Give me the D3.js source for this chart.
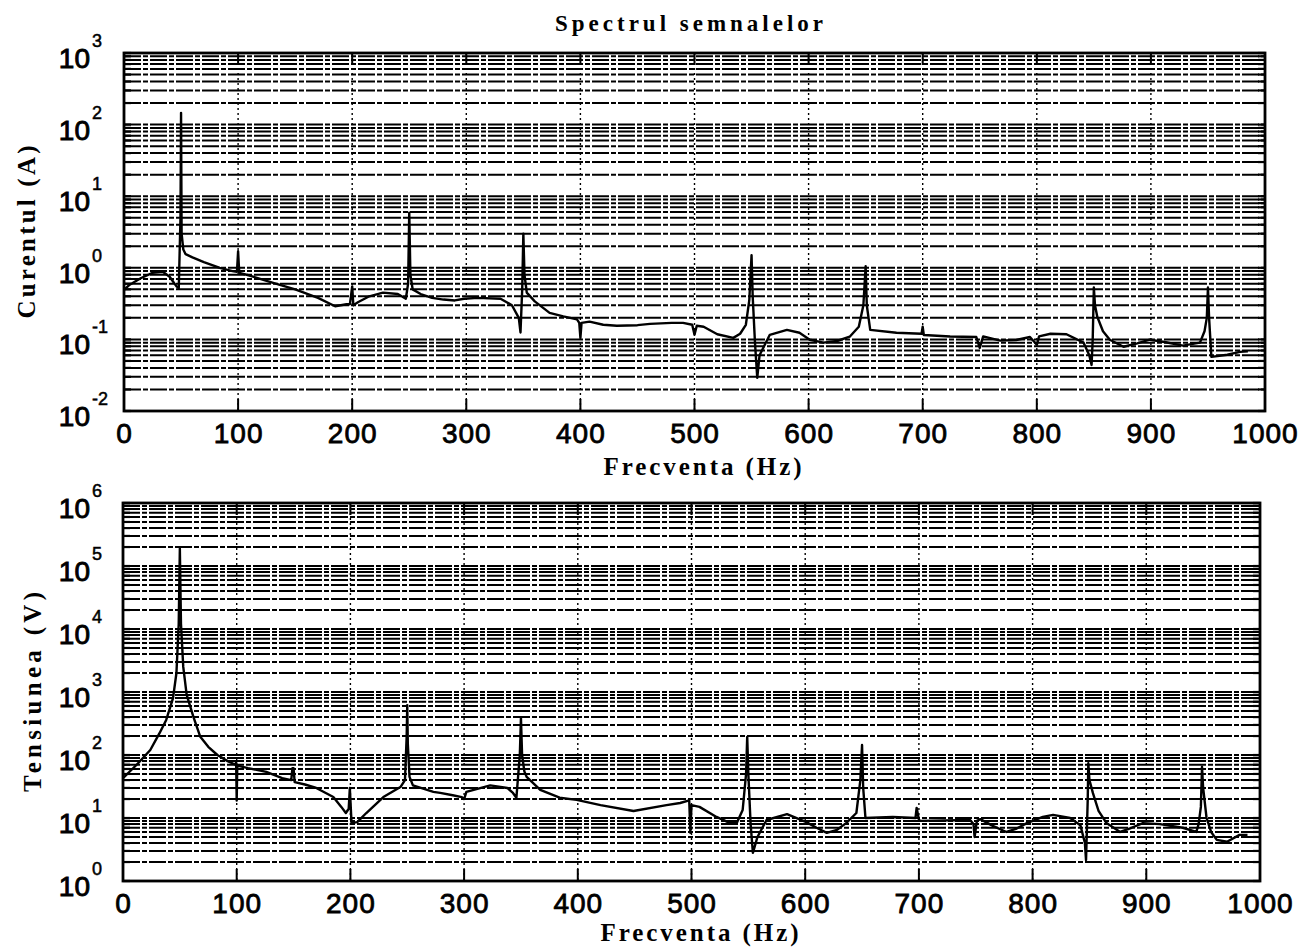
<!DOCTYPE html>
<html><head><meta charset="utf-8">
<script src="https://cdn.jsdelivr.net/npm/d3@7"></script>
<style>
body{margin:0;background:#fff;}
svg{display:block;background:#fff;}
</style></head><body>
<svg id="chart" width="1308" height="950"></svg>
<script>
// Current spectrum (A)
const freqI = [0,5,15,25,34,40,46,48,49.5,50,50.5,52,54,60,70,84,95,99,100,101,110,130,150,170,185,195,198,200,201,205,215,227,240,247,249,250,251,253,260,270,280,290,298,310,330,340,346,347.5,349,350,351,353,360,373,385,397,399,400,401,408,420,432,450,461,480,490,498,500,502,508,520,534,540,545,548,550,551,553,555,557,566,581,592,601,613,625,636,644,648,650,651,654,677,699,700,701,724,747,750,753,768,782,794,800,802,812,826,841,846,848,849,850,851,853,858,864,876,888,899,912,928,943,947,949,950,951,953,967,978,985];
const ampI = [0.49,0.58,0.72,0.85,0.88,0.75,0.55,0.52,5,146,3,1.8,1.55,1.4,1.2,1.0,0.9,0.88,1.7,0.85,0.78,0.62,0.5,0.38,0.29,0.31,0.31,0.55,0.30,0.33,0.4,0.45,0.43,0.37,0.6,5.9,0.8,0.5,0.43,0.38,0.36,0.35,0.37,0.38,0.37,0.3,0.2,0.125,0.5,3,0.8,0.45,0.34,0.235,0.21,0.19,0.17,0.105,0.17,0.177,0.16,0.155,0.158,0.165,0.17,0.17,0.16,0.116,0.155,0.15,0.118,0.105,0.12,0.16,0.35,1.5,0.4,0.09,0.029,0.06,0.116,0.136,0.124,0.099,0.09,0.095,0.109,0.15,0.3,1.05,0.3,0.136,0.124,0.12,0.15,0.115,0.11,0.108,0.076,0.11,0.096,0.098,0.108,0.084,0.11,0.12,0.118,0.09,0.06,0.044,0.1,0.53,0.3,0.207,0.13,0.099,0.079,0.088,0.099,0.092,0.082,0.09,0.13,0.2,0.53,0.2,0.057,0.061,0.067,0.068];

// Voltage spectrum (V)
const freqU = [0,12,24,32,38,44,47,49,50,51,53,56,62,68,75,83,92,99,99.5,100,100.5,110,126,140,148,149,150,151,160,170,185,192,196,198.5,199.5,201,206,214,229,244,248,249.5,250,250.5,252,255,273,279,290,298,300,302,323,338,343,346,349,350,351,353,355,367,384,399,420,449,478,490,498,499,500,507,522,534,540,545,548,549,550,552,554,558,566,584,601,610,619,628,636,645,648.5,650,651,653,677,697,698,700,701,745,748,749,751,754,765,777,786,795,809,818,833,842,846,847,848.5,849,850,853,858,865,877,887,897,912,932,944,946,948,949,950,953,957,962,971,982,989];
const ampU = [43,70,120,220,360,800,2000,12000,190000,12000,2500,900,400,194,135,100,80,70,78,19,68,62,54,43,40,62,62,37,34,30,21.5,15,12,14,30,8.3,8.6,12,21.5,31,40,200,620,150,45,33,26,25,23,21.5,20,26,33,30,25,21,100,390,100,55,45,28,21,19.4,16,12.9,16,17.3,19,5.8,16,15,10.4,8.3,8.5,13.4,50,194,50,8,2.8,5,9.3,11.5,8.6,7,5.8,6.5,8.3,12,40,144,30,10,10.4,10,14.5,9.5,9,9.3,8,5,9,9.6,7.5,6,6.8,8.3,10.4,11.2,10,7.7,4,2.15,20,74,40,25,13,8.3,6,7,8.3,8,7,6,8,15,65,30,10,6,4.5,4.2,5.4,5.4];

const xTicks = [0,100,200,300,400,500,600,700,800,900,1000];
const expI = [-2,-1,0,1,2,3];
const expU = [0,1,2,3,4,5,6];

const svg = d3.select("#chart");
const serif = "'Liberation Serif','Times New Roman',serif";
const sans = "'Liberation Sans',Arial,sans-serif";

svg.append("text")
  .attr("x", 689).attr("y", 31)
  .attr("text-anchor", "middle")
  .attr("font-family", serif)
  .attr("font-weight", "bold").attr("font-size", 23)
  .attr("textLength", 268).attr("lengthAdjust", "spacing")
  .text("Spectrul semnalelor");

function panel(cfg) {
  const {left, right, top, bottom, exps, freq, amp, ylabel, ylabelX, ylabelLen, id} = cfg;
  const x = d3.scaleLinear().domain([0, 1000]).range([left, right]);
  const y = d3.scaleLog().domain([Math.pow(10, exps[0]), Math.pow(10, exps[exps.length - 1])]).range([bottom, top]);
  const g = svg.append("g");

  // every 1..9 × 10^k inside the range
  const gridVals = [];
  for (let k = exps[0]; k < exps[exps.length - 1]; k++) {
    for (let m = 1; m <= 9; m++) gridVals.push(m * Math.pow(10, k));
  }
  gridVals.push(Math.pow(10, exps[exps.length - 1]));

  g.append("g").selectAll("line").data(gridVals).join("line")
    .attr("x1", left).attr("x2", right)
    .attr("y1", d => y(d)).attr("y2", d => y(d))
    .attr("stroke", "#000").attr("stroke-width", 2)
    .attr("stroke-dasharray", "17,2,5,2");

  g.append("g").selectAll("line").data(xTicks.slice(1, -1)).join("line")
    .attr("x1", d => x(d)).attr("x2", d => x(d))
    .attr("y1", top).attr("y2", bottom)
    .attr("stroke", "#000").attr("stroke-width", 1.4)
    .attr("stroke-dasharray", "2,3");

  // inward tick marks
  g.append("g").selectAll("line").data(xTicks).join("line")
    .attr("x1", d => x(d)).attr("x2", d => x(d))
    .attr("y1", bottom).attr("y2", bottom - 12)
    .attr("stroke", "#000").attr("stroke-width", 2);
  g.append("g").selectAll("line").data(xTicks).join("line")
    .attr("x1", d => x(d)).attr("x2", d => x(d))
    .attr("y1", top).attr("y2", top + 12)
    .attr("stroke", "#000").attr("stroke-width", 2);
  g.append("g").selectAll("line").data(gridVals).join("line")
    .attr("x1", left).attr("x2", left + 7)
    .attr("y1", d => y(d)).attr("y2", d => y(d))
    .attr("stroke", "#000").attr("stroke-width", 2.2);
  g.append("g").selectAll("line").data(gridVals).join("line")
    .attr("x1", right).attr("x2", right - 7)
    .attr("y1", d => y(d)).attr("y2", d => y(d))
    .attr("stroke", "#000").attr("stroke-width", 2.2);

  svg.append("clipPath").attr("id", id)
    .append("rect").attr("x", left).attr("y", top - 1)
    .attr("width", right - left).attr("height", bottom - top + 2);

  const line = d3.line().x((d, i) => x(freq[i])).y(d => y(d));
  g.append("path").datum(amp)
    .attr("clip-path", `url(#${id})`)
    .attr("d", line)
    .attr("fill", "none").attr("stroke", "#000")
    .attr("stroke-width", 2.4).attr("stroke-linejoin", "round");

  g.append("rect")
    .attr("x", left).attr("y", top)
    .attr("width", right - left).attr("height", bottom - top)
    .attr("fill", "none").attr("stroke", "#000").attr("stroke-width", 2.8);

  // x tick labels
  const xa = d3.axisBottom(x).tickValues(xTicks).tickSize(0).tickPadding(12).tickFormat(d3.format("d"));
  const xg = g.append("g").attr("transform", `translate(0,${bottom})`).call(xa);
  xg.select(".domain").remove();
  xg.selectAll("text")
    .attr("font-family", sans)
    .attr("font-size", 28).attr("fill", "#000")
    .attr("stroke", "#000").attr("stroke-width", 0.8)
    .attr("letter-spacing", 1)
    .attr("dy", "0.71em");

  // y tick labels as powers of ten
  const yl = g.append("g");
  exps.forEach(k => {
    const yy = y(Math.pow(10, k));
    yl.append("text").attr("x", 90).attr("y", yy + 15)
      .attr("text-anchor", "end")
      .attr("font-family", sans)
      .attr("font-size", 28).attr("stroke", "#000").attr("stroke-width", 0.9)
      .text("10");
    yl.append("text").attr("x", 92).attr("y", yy - 6)
      .attr("text-anchor", "start")
      .attr("font-family", sans)
      .attr("font-size", 18).attr("stroke", "#000").attr("stroke-width", 0.5)
      .text(String(k));
  });

  g.append("text")
    .attr("x", (left + right) / 2 + 8).attr("y", cfg.xlabelY)
    .attr("text-anchor", "middle")
    .attr("font-family", serif)
    .attr("font-weight", "bold").attr("font-size", 25)
    .attr("textLength", 198).attr("lengthAdjust", "spacing")
    .text("Frecventa (Hz)");

  g.append("text")
    .attr("transform", `translate(${ylabelX},${(top + bottom) / 2}) rotate(-90)`)
    .attr("text-anchor", "middle")
    .attr("font-family", serif)
    .attr("font-weight", "bold").attr("font-size", 25)
    .attr("textLength", ylabelLen).attr("lengthAdjust", "spacing")
    .text(ylabel);
}

panel({left: 124, right: 1265, top: 53, bottom: 411, exps: expI, freq: freqI, amp: ampI,
  ylabel: "Curentul (A)", ylabelX: 35, ylabelLen: 173, xlabelY: 475, id: "clipI"});
panel({left: 123, right: 1260, top: 503, bottom: 881, exps: expU, freq: freqU, amp: ampU,
  ylabel: "Tensiunea (V)", ylabelX: 41, ylabelLen: 200, xlabelY: 941, id: "clipU"});
</script>
</body></html>
